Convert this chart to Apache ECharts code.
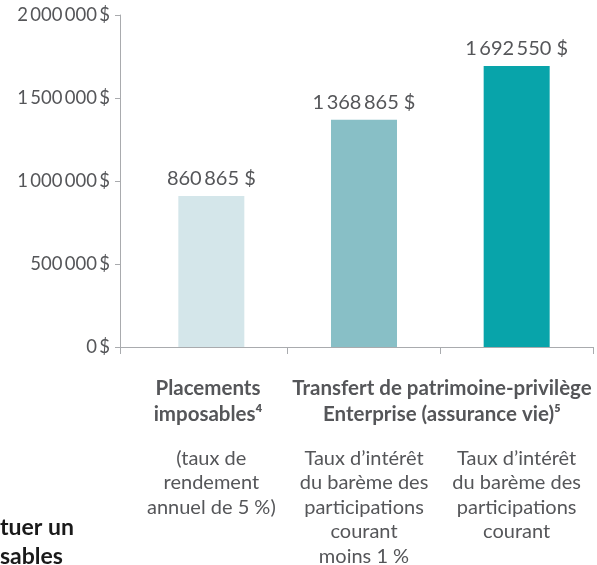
<!DOCTYPE html>
<html>
<head>
<meta charset="utf-8">
<script src="https://cdn.jsdelivr.net/npm/echarts@6/dist/echarts.min.js"></script>
<style>
  html, body { margin: 0; padding: 0; background: #fff; }
  #chart { width: 597px; height: 565px; }
</style>
</head>
<body>
<div id="chart"></div>
<script>
// categories (sub-captions under the axis)
const categories = [
  '(taux de\nrendement\nannuel de 5 %)',
  'Taux d\u2019intérêt\ndu barème des\nparticipations\ncourant\nmoins 1 %',
  'Taux d\u2019intérêt\ndu barème des\nparticipations\ncourant'
];
// bar heights as drawn, and the value labels printed above them
const values = [910000, 1368865, 1692550];
const valueLabels = ['860\u2009865 $', '1\u2009368\u2009865 $', '1\u2009692\u2009550 $'];
const barColors = ['#d4e6ea', '#88bfc6', '#08a4aa'];
// y axis ticks
const yTicks = [0, 500000, 1000000, 1500000, 2000000];
const yTickLabels = ['0\u2009$', '500\u2009000\u2009$', '1\u2009000\u2009000\u2009$', '1\u2009500\u2009000\u2009$', '2\u2009000\u2009000\u2009$'];
// group headings
const headings = ['Placements\nimposables\u2074', 'Transfert de patrimoine-privilège\nEnterprise (assurance vie)\u2075'];

const txt = '#555659';
const axisCol = '#a9abae';
const font = 'Lato, "Open Sans", sans-serif';

const chart = echarts.init(document.getElementById('chart'), null, { renderer: 'canvas' });

const option = {
  animation: false,
  textStyle: { fontFamily: font },
  grid: [
    { left: 135, right: 4, top: 15, bottom: 218, outerBoundsMode: 'none' },
    { left: 120, right: 4, top: 15, bottom: 218, outerBoundsMode: 'none' }
  ],
  xAxis: [{
    gridIndex: 0,
    type: 'category',
    data: categories,
    axisLine: { show: false },
    axisTick: {
      show: true, length: 7,
      lineStyle: { color: axisCol },
      interval: function (i) { return i > 0; }
    },
    axisLabel: {
      interval: 0,
      hideOverlap: false,
      margin: 99,
      color: txt,
      fontSize: 20,
      lineHeight: 24.5,
      fontFamily: font
    }
  }, {
    gridIndex: 1,
    type: 'category',
    data: [''],
    axisLine: { lineStyle: { color: axisCol, width: 1 } },
    axisTick: { show: true, length: 7, lineStyle: { color: axisCol } },
    axisLabel: { show: false }
  }],
  yAxis: [{
    gridIndex: 0,
    type: 'value',
    min: 0, max: 2000000, interval: 500000,
    show: false,
    splitLine: { show: false }
  }, {
    gridIndex: 1,
    type: 'value',
    min: 0, max: 2000000, interval: 500000,
    axisLine: { show: true, lineStyle: { color: axisCol } },
    axisTick: { show: true, length: 5, lineStyle: { color: axisCol } },
    splitLine: { show: false },
    axisLabel: {
      margin: 10,
      color: txt,
      fontSize: 18.5,
      fontFamily: font,
      formatter: function (v) { return yTickLabels[yTicks.indexOf(v)]; }
    }
  }],
  series: [{
    type: 'bar',
    xAxisIndex: 0,
    yAxisIndex: 0,
    barWidth: 66,
    data: values.map(function (v, i) {
      return { value: v, itemStyle: { color: barColors[i] } };
    }),
    label: {
      show: true,
      position: 'top',
      distance: 7,
      color: txt,
      fontSize: 20,
      fontFamily: font,
      formatter: function (p) { return valueLabels[p.dataIndex]; }
    }
  }],
  graphic: [{
    type: 'text', x: 208, y: 375,
    style: {
      text: headings[0], align: 'center', verticalAlign: 'top',
      font: 'bold 20.5px ' + font, lineHeight: 26, fill: txt
    }
  }, {
    type: 'text', x: 442, y: 375,
    style: {
      text: headings[1], align: 'center', verticalAlign: 'top',
      font: 'bold 20.5px ' + font, lineHeight: 26, fill: txt
    }
  }, {
    type: 'text', x: 0, y: 513,
    style: {
      text: 'tuer un\nsables', align: 'left', verticalAlign: 'top',
      font: 'bold 23px ' + font, lineHeight: 29, fill: '#1a1a1a'
    }
  }]
};

chart.setOption(option);
</script>
</body>
</html>
